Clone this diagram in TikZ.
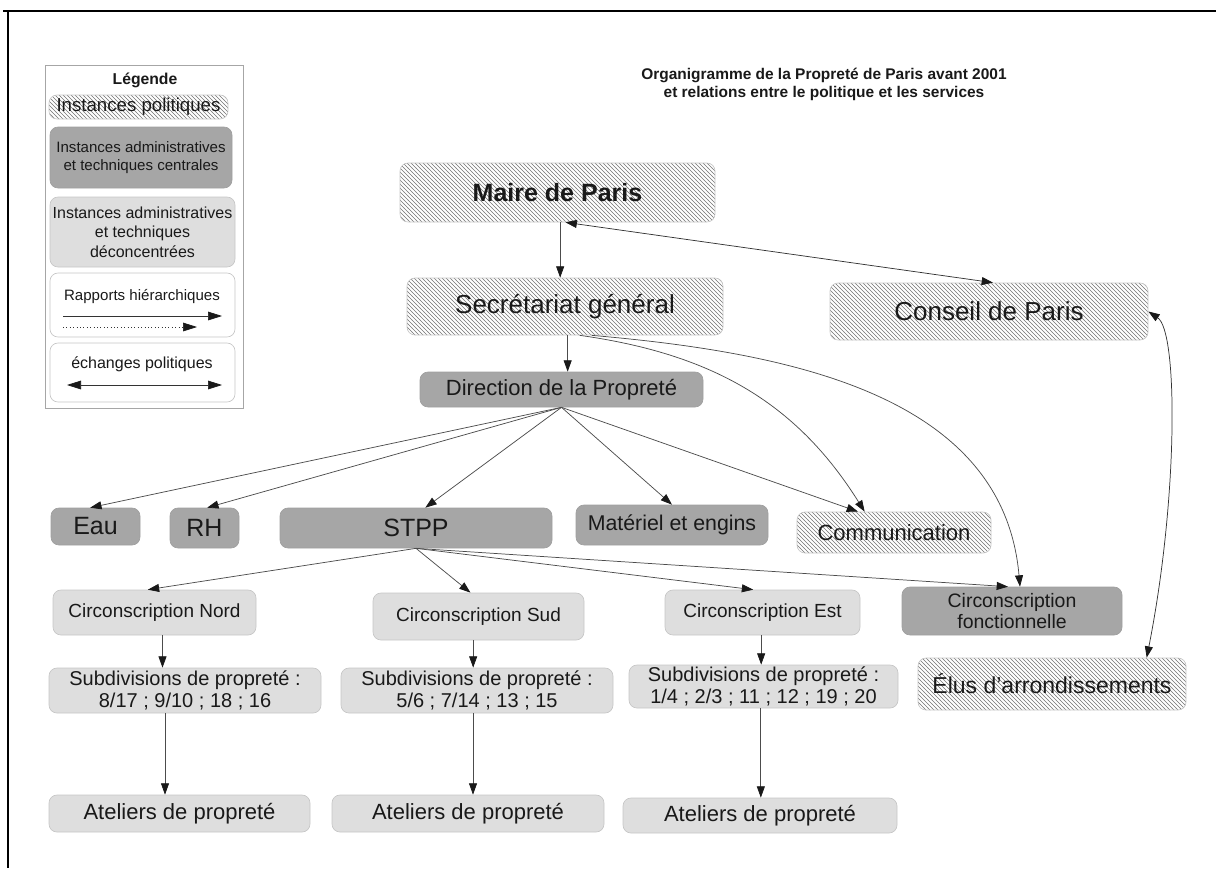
\documentclass[tikz,border=0pt]{standalone}
\usepackage{fontspec}
\setmainfont{Liberation Sans}
\usetikzlibrary{arrows.meta,patterns,calc}
\definecolor{dk}{RGB}{166,166,166}
\definecolor{lt}{RGB}{222,222,222}
\definecolor{hl}{RGB}{115,115,115}
\definecolor{txt}{RGB}{25,25,25}
\newcommand\fz[2]{\fontsize{#1}{#2}\selectfont}
\tikzset{
 sz/.style 2 args={minimum width=#1pt, minimum height=#2pt},
 base/.style={rounded corners=6pt, inner sep=0pt, align=center, text=txt, line width=0.5pt},
 hatchbox/.style={base, draw=gray!45, preaction={fill=white}, pattern=north west lines, pattern color=hl},
 darkbox/.style={base, draw=gray!75, fill=dk},
 lightbox/.style={base, draw=gray!45, fill=lt},
 whitebox/.style={base, draw=gray!45, fill=white},
 tipA/.tip={Triangle[length=8.5pt,width=6pt,color=black!90]},
 tipL/.tip={Triangle[length=10.5pt,width=6.5pt,color=black!90]},
 arr/.style={draw=black!70, line width=0.55pt, -tipA},
 dbl/.style={draw=black!80, line width=0.55pt, tipA-tipA},
 legarr/.style={draw=black!80, line width=0.55pt, -tipL},
 legdbl/.style={draw=black!80, line width=0.55pt, tipL-tipL},
}
\begin{document}
\begin{tikzpicture}[x=0.75pt,y=-0.75pt]
\useasboundingbox (0,0) rectangle (1216,868);
% frame (top and left edges)
\draw[line width=2.2pt] (3,11) -- (1216,11);
\draw[line width=1.6pt] (8,11) -- (8,868);

% legend
\node[draw=gray!70, line width=0.6pt, inner sep=0pt, sz={148.5}{257.25}] (legend) at (144,236.5) {};
\node[font=\fz{11.8}{14}\bfseries, text=txt] (legtitle) at (145,80) {Légende};
\node[hatchbox, sz={134.25}{18}, font=\fz{14}{16}] (l1) at (138.5,107) {Instances politiques};
\node[darkbox, sz={136.5}{45.75}, font=\fz{11.3}{14}] (l2) at (141,157.5) {Instances administratives\\et techniques centrales};
\node[lightbox, sz={138.75}{52.5}, font=\fz{12}{14.5}] (l3) at (142.5,232) {Instances administratives\\et techniques\\déconcentrées};
\node[whitebox, sz={138.75}{48}] (l4) at (142.5,305) {};
\node[whitebox, sz={138.75}{44.25}] (l5) at (142.5,372.5) {};
\node[font=\fz{11.3}{13}, text=txt] (l4t) at (142,297) {Rapports hiérarchiques};
\node[font=\fz{12}{14}, text=txt] (l5t) at (142,364) {échanges politiques};
\coordinate (ra1) at (63,316); \coordinate (ra2) at (222,316);
\coordinate (rb1) at (63,327); \coordinate (rb2) at (197,327);
\coordinate (ea1) at (67,385); \coordinate (ea2) at (222,385);
\draw[legarr] (ra1) -- (ra2);
\draw[legarr, dotted] (rb1) -- (rb2);
\draw[legdbl] (ea1) -- (ea2);

% title
\node[font=\fz{11.6}{13.5}\bfseries, align=center, text=txt] (title) at (824,84)
 {Organigramme de la Propreté de Paris avant 2001\\et relations entre le politique et les services};

% main nodes
\node[hatchbox, sz={236.25}{44.25}, font=\fz{18.75}{22}\bfseries] (maire) at (557.5,192.5) {Maire de Paris};
\node[hatchbox, sz={237}{42.75}, font=\fz{19.5}{23}] (secr) at (565,306.5) {Secrétariat général};
\node[hatchbox, sz={238.5}{42.75}, font=\fz{19.5}{23}] (conseil) at (989,311.5) {Conseil de Paris};
\node[darkbox, sz={212.25}{26.25}, font=\fz{16.5}{19}] (dir) at (561.5,389.5) {Direction de la Propreté};

\node[darkbox, sz={66.75}{27.75}, font=\fz{18.75}{22}] (eau) at (95.5,526.5) {Eau};
\node[darkbox, sz={51.75}{30}, font=\fz{18.75}{22}] (rh) at (204.5,528) {RH};
\node[darkbox, sz={204}{30}, font=\fz{18.75}{22}] (stpp) at (416,528) {STPP};
\node[darkbox, sz={144}{30}, font=\fz{16}{19}] (mat) at (672,525) {Matériel et engins};
\node[hatchbox, sz={145.5}{30.75}, font=\fz{16.5}{19}] (comm) at (894,532.5) {Communication};

\node[lightbox, sz={152.25}{33.75}, font=\fz{14.25}{17}] (circN) at (154.5,612.5) {Circonscription Nord};
\node[lightbox, sz={158.25}{35.25}, font=\fz{14.25}{17}] (circS) at (478.5,616.5) {Circonscription Sud};
\node[lightbox, sz={146.25}{33.75}, font=\fz{14.25}{17}] (circE) at (762.5,612.5) {Circonscription Est};
\node[darkbox, sz={165}{36}, font=\fz{14.6}{16}] (fonct) at (1012,611) {Circonscription\\fonctionnelle};

\node[lightbox, sz={204}{33.75}, font=\fz{15}{16.5}] (subN) at (185,690.5) {Subdivisions de propreté :\\8/17 ; 9/10 ; 18 ; 16};
\node[lightbox, sz={204}{33.75}, font=\fz{15}{16.5}] (subS) at (477,690.5) {Subdivisions de propreté :\\5/6 ; 7/14 ; 13 ; 15};
\node[lightbox, sz={201.75}{32.25}, font=\fz{15}{16.5}] (subE) at (763.5,686.5) {Subdivisions de propreté :\\1/4 ; 2/3 ; 11 ; 12 ; 19 ; 20};
\node[hatchbox, sz={201}{39}, font=\fz{17.25}{20}] (elus) at (1052,684) {Élus d'arrondissements};

\node[lightbox, sz={195.75}{27.75}, font=\fz{16.5}{19}] (atN) at (179.5,813.5) {Ateliers de propreté};
\node[lightbox, sz={204}{27.75}, font=\fz{16.5}{19}] (atS) at (468,813.5) {Ateliers de propreté};
\node[lightbox, sz={205.5}{26.25}, font=\fz{16.5}{19}] (atE) at (760,815.5) {Ateliers de propreté};

% connectors
\draw[arr] ([xshift=2pt]maire.south) -- ([xshift=2pt]maire.south |- secr.north);
\draw[dbl] ([xshift=6pt]maire.south) -- ([xshift=3pt]conseil.north);
\draw[arr] ([xshift=2pt]secr.south) -- ([xshift=2pt]secr.south |- dir.north);
\draw[arr] ([xshift=11pt]secr.south) to[out=-8,in=122] ([xshift=-22pt]comm.north);
\draw[arr] ([xshift=20pt]secr.south) to[out=-5,in=95] ([xshift=6pt]fonct.north);

\draw[arr] (dir.south) -- ([xshift=-4pt]eau.north);
\draw[arr] (dir.south) -- ([xshift=2pt]rh.north);
\draw[arr] (dir.south) -- ([xshift=7pt]stpp.north);
\draw[arr] (dir.south) -- (mat.north);
\draw[arr] (dir.south) -- ([xshift=-27pt]comm.north);

\draw[arr] (stpp.south) -- ([xshift=-5pt]circN.north);
\draw[arr] (stpp.south) -- ([xshift=-6pt]circS.north);
\draw[arr] (stpp.south) -- ([xshift=-7pt]circE.north);
\draw[arr] (stpp.south) -- ([xshift=-3pt]fonct.north);

\draw[arr] ([xshift=6pt]circN.south) -- ([xshift=6pt]circN.south |- subN.north);
\draw[arr] ([xshift=-15pt]subN.south) -- ([xshift=-15pt]subN.south |- atN.north);
\draw[arr] ([xshift=-4pt]circS.south) -- ([xshift=-4pt]circS.south |- subS.north);
\draw[arr] ([xshift=-3pt]subS.south) -- ([xshift=-3pt]subS.south |- atS.north);
\draw[arr] ([xshift=-1pt]circE.south) -- ([xshift=-1pt]circE.south |- subE.north);
\draw[arr] ([xshift=-2pt]subE.south) -- ([xshift=-2pt]subE.south |- atE.north);

\draw[dbl] (conseil.east) .. controls ($(conseil.east)+(30,20)$) and ($(elus.north)+(126,-158)$) .. ([xshift=71pt]elus.north);
\end{tikzpicture}
\end{document}
